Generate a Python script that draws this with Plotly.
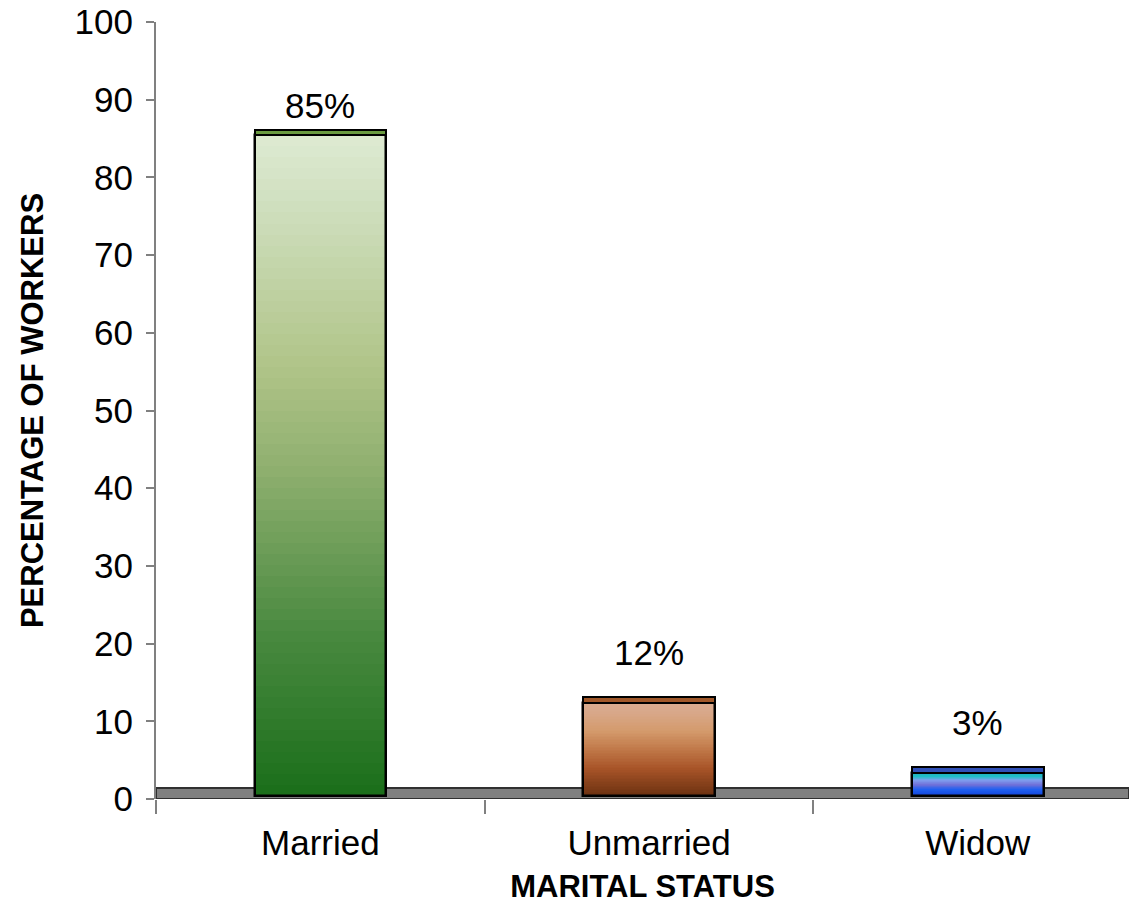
import plotly.graph_objects as go

categories = ["Married", "Unmarried", "Widow"]
percent_values = [85, 12, 3]
y_ticks = [0, 10, 20, 30, 40, 50, 60, 70, 80, 90, 100]

# gradient colour stops (fraction from bottom, colour) per bar
gradients = [
    [(0.0, (26, 110, 26)), (0.25, (74, 138, 64)), (0.5, (144, 176, 112)),
     (0.65, (176, 196, 136)), (0.9, (208, 224, 192)), (1.0, (222, 234, 210))],
    [(0.0, (106, 48, 16)), (0.3, (168, 84, 40)), (0.5, (192, 120, 72)),
     (0.7, (212, 154, 108)), (0.9, (216, 168, 138)), (1.0, (218, 172, 144))],
    [(0.0, (16, 64, 216)), (0.3, (32, 96, 240)), (0.5, (112, 112, 216)),
     (0.7, (128, 160, 240)), (0.85, (32, 192, 200)), (1.0, (32, 176, 192))],
]
cap_colors = ["#6a9a40", "#a0582a", "#3050b8"]

BASE = 0.4      # bars sit slightly above the floor line (3D look)
CAP = 0.7       # thickness of the top face
N = 60


def interp(stops, t):
    for (t0, c0), (t1, c1) in zip(stops, stops[1:]):
        if t0 <= t <= t1:
            f = (t - t0) / (t1 - t0) if t1 > t0 else 0
            c = [round(a + (b - a) * f) for a, b in zip(c0, c1)]
            return f"rgb({c[0]},{c[1]},{c[2]})"
    c = stops[-1][1]
    return f"rgb({c[0]},{c[1]},{c[2]})"


fig = go.Figure()

# gradient fill, built from stacked slices of each bar's value
for k in range(N):
    hs = [v / N for v in percent_values]
    bases = [BASE + k * h for h in hs]
    cols = [interp(g, (k + 0.5) / N) for g in gradients]
    fig.add_trace(go.Bar(
        x=categories, y=hs, base=bases, width=0.4,
        marker=dict(color=cols, line=dict(width=0)),
        showlegend=False, hoverinfo="skip",
    ))

# outline of the bars
fig.add_trace(go.Bar(
    x=categories, y=percent_values, base=[BASE] * 3, width=0.4,
    marker=dict(color="rgba(0,0,0,0)", line=dict(color="black", width=2.5)),
    showlegend=False,
))
# top face
fig.add_trace(go.Bar(
    x=categories, y=[CAP] * 3, base=[v + BASE for v in percent_values], width=0.4,
    marker=dict(color=cap_colors, line=dict(color="black", width=2)),
    showlegend=False, hoverinfo="skip",
))

# floor
fig.add_shape(type="rect", xref="paper", yref="y", x0=0, x1=1, y0=0, y1=1.4,
              fillcolor="#808080", line=dict(color="#303030", width=2), layer="below")

for c, v in zip(categories, percent_values):
    fig.add_annotation(x=c, y=min(v + 6.8, 89.2), text=f"{v}%", showarrow=False,
                       font=dict(family="Liberation Sans, Arial", size=35, color="black"))

fig.update_layout(
    barmode="overlay",
    width=1129, height=910,
    margin=dict(l=156, r=0, t=22, b=111),
    plot_bgcolor="white", paper_bgcolor="white",
    font=dict(family="Liberation Sans, Arial", color="black"),
    bargap=0,
)
fig.update_yaxes(
    range=[0, 100], tickvals=y_ticks, showgrid=False, zeroline=False,
    showline=True, linecolor="#808080", linewidth=2,
    ticks="outside", ticklen=8, tickcolor="#808080", tickwidth=2,
    tickfont=dict(size=35), ticklabelstandoff=6,
    title=dict(text="<b>PERCENTAGE OF WORKERS</b>", font=dict(size=31), standoff=22),
)
fig.update_xaxes(
    range=[-0.5, 2.46], showgrid=False, zeroline=False, showline=False,
    tickson="boundaries", ticks="outside", ticklen=14, tickcolor="#808080", tickwidth=2,
    tickfont=dict(size=35), ticklabelstandoff=20,
    title=dict(text="<b>MARITAL STATUS</b>", font=dict(size=31), standoff=14),
)

fig.write_html("out.html")
